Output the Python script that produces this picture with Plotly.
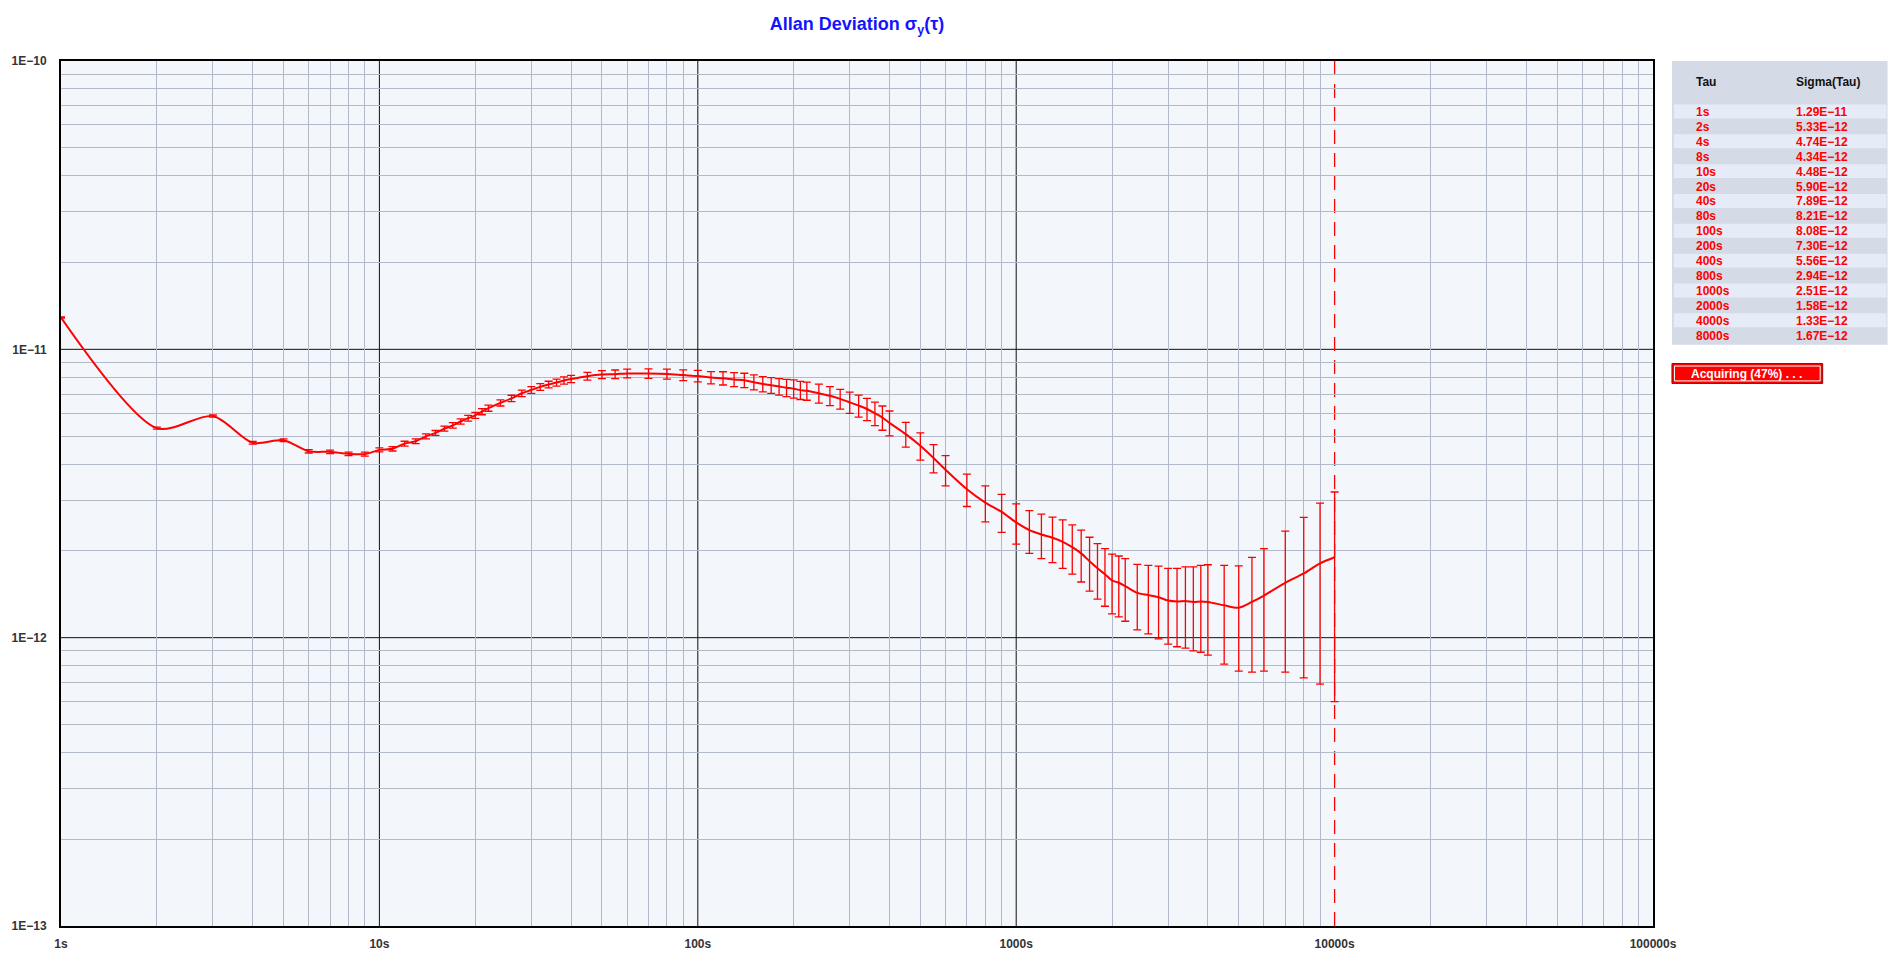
import plotly.graph_objects as go

# ---------------- data ----------------
tau = [1, 2, 3, 4, 5, 6, 7, 8, 9, 10,
       11, 12, 13, 14, 15, 16, 17, 18, 19, 20,
       21, 22, 24, 26, 28, 30, 32, 34, 36, 38, 40,
       45, 50, 55, 60, 70, 80, 90, 100,
       110, 120, 130, 140, 150, 160, 170, 180, 190, 200,
       210, 220, 240, 260, 280, 300, 320, 340, 360, 380, 400,
       450, 500, 550, 600, 700, 800, 900, 1000,
       1100, 1200, 1300, 1400, 1500, 1600, 1700, 1800, 1900, 2000,
       2100, 2200, 2400, 2600, 2800, 3000, 3200, 3400, 3600, 3800, 4000,
       4500, 5000, 5500, 6000, 7000, 8000, 9000, 10000]

# Allan deviation, units of 1E-12
sigma_e12 = [12.9, 5.33, 5.87, 4.74, 4.84, 4.43, 4.41, 4.34, 4.33, 4.48,
             4.52, 4.71, 4.80, 4.99, 5.13, 5.31, 5.45, 5.62, 5.77, 5.90,
             6.08, 6.25, 6.52, 6.76, 7.04, 7.23, 7.41, 7.55, 7.67, 7.80, 7.89,
             8.07, 8.18, 8.20, 8.25, 8.24, 8.21, 8.14, 8.08,
             7.98, 7.94, 7.86, 7.81, 7.69, 7.58, 7.51, 7.43, 7.36, 7.30,
             7.22, 7.18, 7.04, 6.90, 6.73, 6.55, 6.38, 6.21, 6.00, 5.80, 5.56,
             5.08, 4.63, 4.20, 3.82, 3.27, 2.94, 2.73, 2.51,
             2.36, 2.28, 2.22, 2.15, 2.06, 1.96, 1.84, 1.74, 1.66, 1.58,
             1.55, 1.51, 1.43, 1.405, 1.38, 1.345, 1.335, 1.34, 1.33, 1.335, 1.33,
             1.295, 1.27, 1.33, 1.40, 1.55, 1.67, 1.81, 1.90]

# error bar half-length, units of 1E-12
err_e12 = [0.06, 0.04, 0.05, 0.05, 0.05, 0.06, 0.06, 0.06, 0.07, 0.07,
           0.08, 0.09, 0.09, 0.10, 0.10, 0.11, 0.12, 0.12, 0.13, 0.14,
           0.15, 0.15, 0.16, 0.17, 0.18, 0.19, 0.20, 0.20, 0.21, 0.22, 0.23,
           0.25, 0.26, 0.28, 0.29, 0.31, 0.33, 0.35, 0.37,
           0.39, 0.42, 0.44, 0.45, 0.46, 0.46, 0.47, 0.49, 0.51, 0.53,
           0.52, 0.52, 0.53, 0.52, 0.53, 0.55, 0.56, 0.55, 0.56, 0.56, 0.55,
           0.50, 0.50, 0.47, 0.46, 0.42, 0.42, 0.41, 0.40,
           0.40, 0.40, 0.40, 0.41, 0.40, 0.40, 0.39, 0.38, 0.375, 0.37,
           0.37, 0.37, 0.365, 0.375, 0.39, 0.395, 0.405, 0.42, 0.43, 0.445, 0.46,
           0.485, 0.505, 0.57, 0.635, 0.79, 0.945, 1.12, 1.30]

table_tau = ["1s", "2s", "4s", "8s", "10s", "20s", "40s", "80s", "100s", "200s",
             "400s", "800s", "1000s", "2000s", "4000s", "8000s"]
table_sigma = ["1.29E\u221211", "5.33E\u221212", "4.74E\u221212", "4.34E\u221212",
               "4.48E\u221212", "5.90E\u221212", "7.89E\u221212", "8.21E\u221212",
               "8.08E\u221212", "7.30E\u221212", "5.56E\u221212", "2.94E\u221212",
               "2.51E\u221212", "1.58E\u221212", "1.33E\u221212", "1.67E\u221212"]

x_tick_vals = [1, 10, 100, 1000, 10000, 100000]
x_tick_text = ["1s", "10s", "100s", "1000s", "10000s", "100000s"]
y_tick_vals = [1e-13, 1e-12, 1e-11, 1e-10]
y_tick_text = ["1E\u221213", "1E\u221212", "1E\u221211", "1E\u221210"]

x_major_grid = [10, 100, 1000]
y_major_grid = [1e-12, 1e-11]

acquire_text = "Acquiring (47%) . . ."
current_tau = 10000
title_text = "Allan Deviation \u03c3<sub>y</sub>(\u03c4)"

# ---------------- layout geometry ----------------
W, H = 1899, 963
L, R, T, B = 58, 246, 61, 30
PW = W - L - R
PH = H - T - B


def px(x):
    return (x - L) / PW


def py(y):
    return (H - B - y) / PH


FONT = "Arial, Liberation Sans, sans-serif"
RED = "#ff0000"
MAJOR = "#111111"

sigma = [s * 1e-12 for s in sigma_e12]
err = [e * 1e-12 for e in err_e12]

fig = go.Figure()
fig.add_trace(go.Scatter(
    x=tau, y=sigma, mode="lines",
    line=dict(color=RED, width=2, shape="spline", smoothing=0.8),
    error_y=dict(type="data", array=err, symmetric=True, color=RED,
                 thickness=1.3, width=4),
    showlegend=False, hoverinfo="x+y",
))

x_minor = [m * 10 ** e for e in range(0, 5) for m in range(2, 10)]
y_minor = [m * 10.0 ** e for e in range(-13, -10) for m in range(2, 10)]

shapes = []
# decade gridlines
for xv in x_major_grid:
    shapes.append(dict(type="line", xref="x", yref="paper", x0=xv, x1=xv, y0=0, y1=1,
                       line=dict(color=MAJOR, width=1), layer="between"))
for yv in y_major_grid:
    shapes.append(dict(type="line", xref="paper", yref="y", x0=0, x1=1, y0=yv, y1=yv,
                       line=dict(color=MAJOR, width=1), layer="between"))
# current acquisition tau (dashed)
shapes.append(dict(type="line", xref="x", yref="paper", x0=current_tau, x1=current_tau,
                   y0=0, y1=1, line=dict(color=RED, width=1.3, dash="14px,9px"),
                   layer="between"))

# table panel
shapes.append(dict(type="rect", xref="paper", yref="paper",
                   x0=px(1672), x1=px(1888), y0=py(347), y1=py(61),
                   fillcolor="#d5dbe6", line=dict(width=0), layer="above"))
row_top = 104.3
row_h = 15.04
annotations = []
for i, (t, s) in enumerate(zip(table_tau, table_sigma)):
    top = row_top + row_h * i
    if i % 2 == 0:
        shapes.append(dict(type="rect", xref="paper", yref="paper",
                           x0=px(1674), x1=px(1887), y0=py(top + row_h - 0.5), y1=py(top + 0.5),
                           fillcolor="#e6ecf7", line=dict(width=0), layer="above"))
    yc = py(top + row_h / 2 + 0.5)
    annotations.append(dict(xref="paper", yref="paper", x=px(1694), y=yc, text="<b>%s</b>" % t,
                            showarrow=False, xanchor="left", yanchor="middle",
                            font=dict(family=FONT, size=12, color=RED)))
    annotations.append(dict(xref="paper", yref="paper", x=px(1794), y=yc, text="<b>%s</b>" % s,
                            showarrow=False, xanchor="left", yanchor="middle",
                            font=dict(family=FONT, size=12, color=RED)))

annotations.append(dict(xref="paper", yref="paper", x=px(1694), y=py(82), text="<b>Tau</b>",
                        showarrow=False, xanchor="left", yanchor="middle",
                        font=dict(family=FONT, size=12, color="#111111")))
annotations.append(dict(xref="paper", yref="paper", x=px(1794), y=py(82), text="<b>Sigma(Tau)</b>",
                        showarrow=False, xanchor="left", yanchor="middle",
                        font=dict(family=FONT, size=12, color="#111111")))

# acquiring box
shapes.append(dict(type="rect", xref="paper", yref="paper",
                   x0=px(1672), x1=px(1823), y0=py(386), y1=py(366),
                   fillcolor=RED, line=dict(color="#a00000", width=1), layer="above"))
shapes.append(dict(type="rect", xref="paper", yref="paper",
                   x0=px(1674.5), x1=px(1820.5), y0=py(383.5), y1=py(368.5),
                   fillcolor="rgba(0,0,0,0)", line=dict(color="#ffffff", width=1), layer="above"))
annotations.append(dict(xref="paper", yref="paper", x=px(1747), y=py(376.5),
                        text="<b>%s</b>" % acquire_text, showarrow=False,
                        xanchor="center", yanchor="middle",
                        font=dict(family=FONT, size=12, color="#ffffff")))

fig.update_layout(
    width=W, height=H,
    margin=dict(l=L, r=R, t=T, b=B, pad=0),
    paper_bgcolor="#ffffff",
    plot_bgcolor="#f3f6fb",
    title=dict(text="<b>%s</b>" % title_text, x=px((L + L + PW) / 2), xref="paper",
               xanchor="center", y=1 - 24 / H, yref="container", yanchor="middle",
               font=dict(family=FONT, size=18, color="#1414ff")),
    xaxis=dict(type="log", range=[0, 5], tickmode="array", tickvals=x_tick_vals,
               ticktext=["<b>%s</b>" % t for t in x_tick_text],
               tickfont=dict(family=FONT, size=12, color="#333333"),
               ticks="", showgrid=False,
               minor=dict(tickmode="array", tickvals=x_minor, showgrid=True,
                          gridcolor="#b0bac8", gridwidth=1, ticks=""),
               showline=True, mirror=True, linecolor="#000000", linewidth=2,
               zeroline=False, ticklabelstandoff=6),
    yaxis=dict(type="log", range=[-13, -10], tickmode="array", tickvals=y_tick_vals,
               ticktext=["<b>%s</b>" % t for t in y_tick_text],
               tickfont=dict(family=FONT, size=12, color="#333333"),
               ticks="", showgrid=False,
               minor=dict(tickmode="array", tickvals=y_minor, showgrid=True,
                          gridcolor="#b0bac8", gridwidth=1, ticks=""),
               showline=True, mirror=True, linecolor="#000000", linewidth=2,
               zeroline=False, ticklabelstandoff=10),
    shapes=shapes,
    annotations=annotations,
)

fig.write_html("out.html", config={"displayModeBar": False},
               post_script="document.body.style.margin='0';document.body.style.overflow='hidden';")
